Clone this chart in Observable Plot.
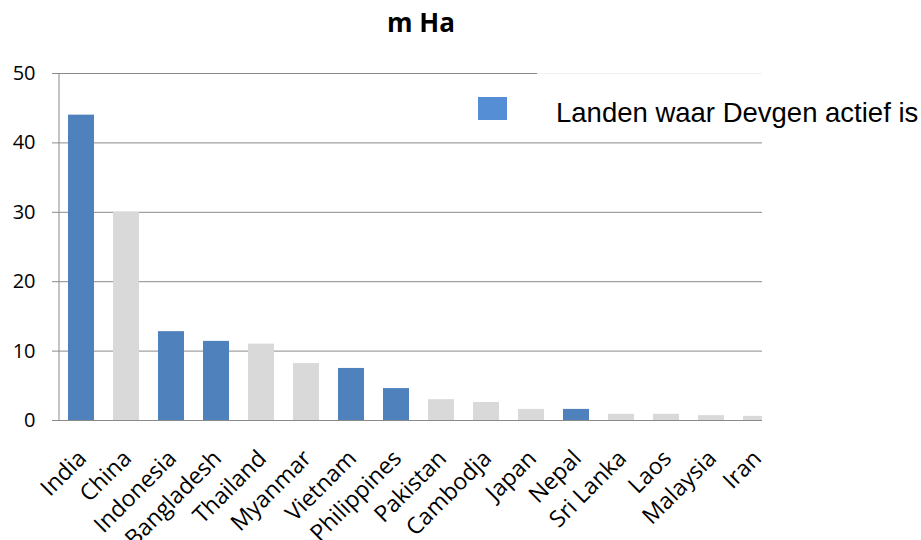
<!DOCTYPE html>
<html>
<head>
<meta charset="utf-8">
<script src="https://cdn.jsdelivr.net/npm/d3@7"></script>
<script src="https://cdn.jsdelivr.net/npm/@observablehq/plot@0.6"></script>
<style>
  html, body { margin: 0; padding: 0; background: white; }
  #wrap { position: relative; width: 921px; height: 540px; overflow: hidden; }
  #title { position: absolute; left: 321px; top: 9px; width: 200px; text-align: center;
           font-family: "Open Sans", sans-serif; font-weight: 700; font-size: 26px; line-height: 1; color: #000; }
  #legendBox { position: absolute; left: 537px; top: 70px; width: 384px; height: 62px; background: rgba(255,255,255,0.88); }
  #swatch { position: absolute; left: 478px; top: 97px; width: 29px; height: 23px; background: #558ED5; }
  #legendText { position: absolute; left: 556px; top: 99px; font-family: "Liberation Sans", Arial, sans-serif;
                font-size: 27.5px; line-height: 1; color: #000; white-space: nowrap; }
</style>
</head>
<body>
<div id="wrap">
  <div id="chart"></div>
  <div id="title">m Ha</div>
  <div id="legendBox"></div>
  <div id="swatch"></div>
  <div id="legendText">Landen waar Devgen actief is</div>
</div>
<script>
const countries = ["India","China","Indonesia","Bangladesh","Thailand","Myanmar","Vietnam","Philippines","Pakistan","Cambodja","Japan","Nepal","Sri Lanka","Laos","Malaysia","Iran"];
const values    = [44, 30, 12.8, 11.4, 11, 8.2, 7.5, 4.6, 3.0, 2.6, 1.6, 1.6, 0.9, 0.9, 0.7, 0.6];
const active    = [true, false, true, true, false, false, true, true, false, false, false, true, false, false, false, false];
const yTicks    = [0, 10, 20, 30, 40, 50];

const blue = "#4F81BD", grey = "#D9D9D9", lineGrey = "#8A8A8A";
const data = countries.map((c, i) => ({country: c, value: values[i], active: active[i]}));
const halfStep = 720 / countries.length / 2;

const chart = Plot.plot({
  width: 921, height: 540,
  marginLeft: 57, marginRight: 159, marginTop: 73, marginBottom: 120,
  style: {fontFamily: "Open Sans", background: "white", color: "#000"},
  x: {domain: countries, range: [58, 778], paddingInner: 0.43, paddingOuter: 0.215, label: null},
  y: {domain: [0, 50], label: null},
  marks: [
    Plot.ruleY(yTicks, {stroke: lineGrey, strokeWidth: 1}),
    Plot.barY(data.filter(d => !d.active), {x: "country", y: "value", fill: grey, clip: true}),
    Plot.barY(data.filter(d => d.active), {x: "country", y: "value", fill: blue, clip: true}),
    Plot.ruleX([countries[0]], {x: d => d, y1: 0, y2: 50, dx: -halfStep, stroke: lineGrey}),
    Plot.ruleX(countries, {x: d => d, y1: 0, y2: 0, insetBottom: -6, dx: -halfStep, stroke: lineGrey, clip: true}),
    Plot.axisY({ticks: yTicks, tickSize: 5, tickPadding: 17, fontSize: 20, stroke: lineGrey, fill: "#000", label: null}),
    Plot.axisX({tickSize: 0, tickPadding: 34, tickRotate: -45, fontSize: 23, dx: 1, fill: "#000", label: null})
  ]
});
document.getElementById("chart").appendChild(chart);
</script>
</body>
</html>
